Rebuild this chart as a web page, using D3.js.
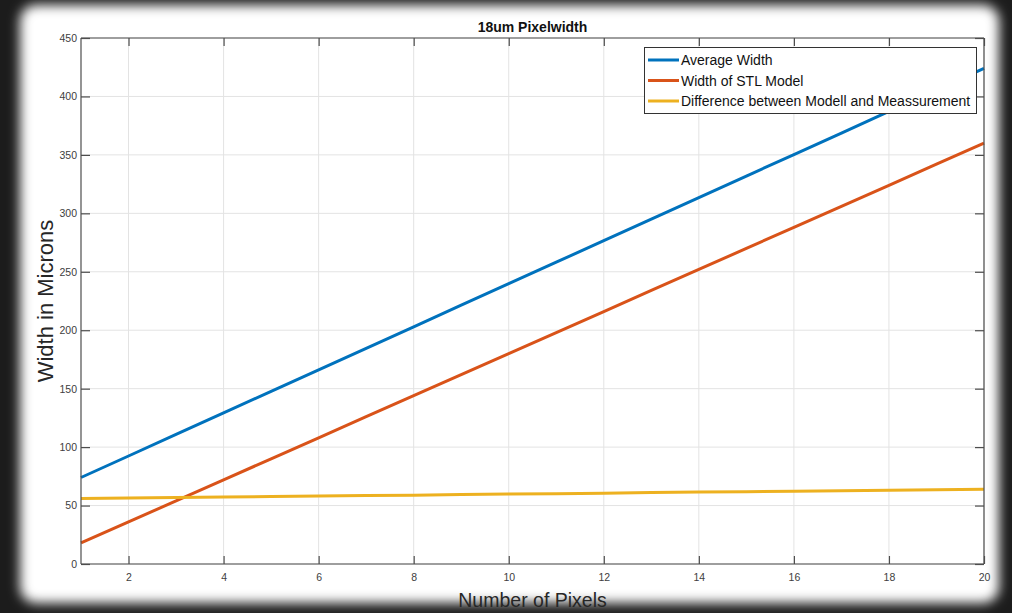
<!DOCTYPE html>
<html><head><meta charset="utf-8">
<script src="https://cdn.jsdelivr.net/npm/d3@7"></script>
<style>html,body{margin:0;padding:0;background:#1c1c1c;}svg{display:block;}</style>
</head><body>
<svg id="c" width="1012" height="613"></svg>
<script>
const pixels = [1,2,3,4,5,6,7,8,9,10,11,12,13,14,15,16,17,18,19,20];
const averageWidth = [74.0,92.4,110.8,129.3,147.7,166.1,184.5,202.9,221.4,239.8,258.2,276.6,295.1,313.5,331.9,350.3,368.7,387.2,405.6,424.0];
const stlWidth = [18,36,54,72,90,108,126,144,162,180,198,216,234,252,270,288,306,324,342,360];
const difference = [56.0,56.4,56.8,57.3,57.7,58.1,58.5,58.9,59.4,59.8,60.2,60.6,61.1,61.5,61.9,62.3,62.7,63.2,63.6,64.0];
const seriesNames = ["Average Width","Width of STL Model","Difference between Modell and Meassurement"];
const seriesColors = ["#0072BD","#D95319","#EDB120"];
const xTicks = [2,4,6,8,10,12,14,16,18,20];
const yTicks = [0,50,100,150,200,250,300,350,400,450];
const chartTitle = "18um Pixelwidth";
const xLabel = "Number of Pixels";
const yLabel = "Width in Microns";

(function(){
const svg = d3.select("#c");
const W = 1012, H = 613;
const font = "'Liberation Sans', Arial, sans-serif";

// vignette background
const defs = svg.append("defs");
const f = defs.append("filter").attr("id","blur").attr("x","-10%").attr("y","-10%").attr("width","120%").attr("height","120%");
f.append("feGaussianBlur").attr("stdDeviation",6);
svg.append("rect").attr("width",W).attr("height",H).attr("fill","#1c1c1c");
svg.append("rect").attr("x",20).attr("y",5).attr("width",979).attr("height",598).attr("rx",16)
  .attr("fill","#ffffff").attr("filter","url(#blur)");

const m = {l:81, r:984, t:38, b:564};
const x = d3.scaleLinear().domain([1,20]).range([m.l,m.r]);
const y = d3.scaleLinear().domain([0,450]).range([m.b,m.t]);

// grid
const g = svg.append("g");
g.selectAll(".gx").data(xTicks).join("line")
  .attr("x1",d=>x(d)).attr("x2",d=>x(d)).attr("y1",m.t).attr("y2",m.b)
  .attr("stroke","#e3e3e3").attr("stroke-width",1);
g.selectAll(".gy").data(yTicks).join("line")
  .attr("y1",d=>y(d)).attr("y2",d=>y(d)).attr("x1",m.l).attr("x2",m.r)
  .attr("stroke","#e3e3e3").attr("stroke-width",1);

// lines
const series = [averageWidth, stlWidth, difference];
const line = d3.line().x((d,i)=>x(pixels[i])).y(d=>y(d));
series.forEach((s,i)=>{
  svg.append("path").datum(s).attr("d",line).attr("fill","none")
    .attr("stroke",seriesColors[i]).attr("stroke-width",3);
});

// axes (MATLAB-style box with inward ticks)
const axCol = "#4d4d4d";
const axB = d3.axisBottom(x).tickValues(xTicks).tickSize(-8).tickPadding(10).tickFormat(d3.format("d"));
const axT = d3.axisTop(x).tickValues(xTicks).tickSize(-8).tickFormat("");
const axL = d3.axisLeft(y).tickValues(yTicks).tickSize(-9).tickPadding(4).tickFormat(d3.format("d"));
const axR = d3.axisRight(y).tickValues(yTicks).tickSize(-9).tickFormat("");
function style(sel){
  sel.selectAll("path").attr("stroke",axCol).attr("stroke-width",1.2);
  sel.selectAll("line").attr("stroke",axCol).attr("stroke-width",1.2);
  sel.selectAll("text").attr("fill","#404040").attr("font-family",font).attr("font-size",10.5);
}
svg.append("g").attr("transform",`translate(0,${m.b})`).call(axB).call(style).call(s=>s.select(".domain").attr("d",`M${m.l},0H${m.r}`));
svg.append("g").attr("transform",`translate(0,${m.t})`).call(axT).call(style).call(s=>s.select(".domain").attr("d",`M${m.l},0H${m.r}`));
svg.append("g").attr("transform",`translate(${m.l},0)`).call(axL).call(style).call(s=>s.select(".domain").attr("d",`M0,${m.t}V${m.b}`));
svg.append("g").attr("transform",`translate(${m.r},0)`).call(axR).call(style).call(s=>s.select(".domain").attr("d",`M0,${m.t}V${m.b}`));

// title & labels
svg.append("text").attr("x",(m.l+m.r)/2).attr("y",32).attr("text-anchor","middle")
  .attr("font-family",font).attr("font-weight","bold").attr("font-size",14).attr("fill","#111").text(chartTitle);
svg.append("text").attr("x",(m.l+m.r)/2).attr("y",607).attr("text-anchor","middle")
  .attr("font-family",font).attr("font-size",19.5).attr("fill","#262626").text(xLabel);
svg.append("text").attr("transform",`translate(53,${(m.t+m.b)/2}) rotate(-90)`).attr("text-anchor","middle")
  .attr("font-family",font).attr("font-size",22).attr("fill","#262626").text(yLabel);

// legend
const lg = svg.append("g");
lg.append("rect").attr("x",644.5).attr("y",47.5).attr("width",332).attr("height",66)
  .attr("fill","#fff").attr("stroke","#333").attr("stroke-width",1);
seriesNames.forEach((n,i)=>{
  const yy = 60 + i*20.5;
  lg.append("line").attr("x1",648).attr("x2",679).attr("y1",yy).attr("y2",yy)
    .attr("stroke",seriesColors[i]).attr("stroke-width",3);
  lg.append("text").attr("x",681).attr("y",yy+5).attr("font-family",font).attr("font-size",14)
    .attr("fill","#111").text(n);
});
})();
</script>
</body></html>
